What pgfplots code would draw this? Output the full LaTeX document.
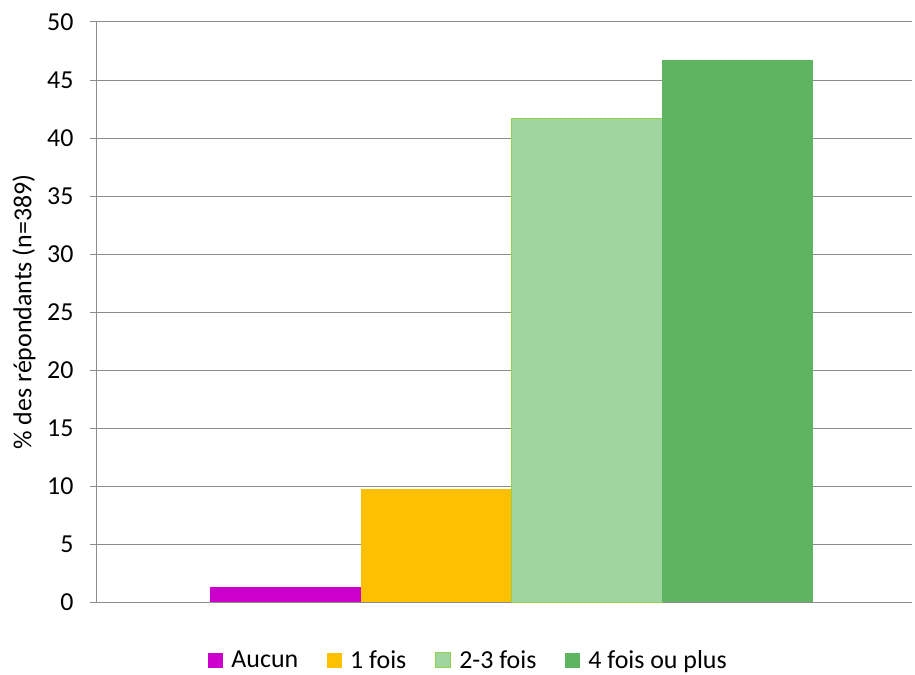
\documentclass[border=0pt]{standalone}
\usepackage{fontspec}
\setmainfont{Carlito}
\usepackage{pgfplots}
\pgfplotsset{compat=1.18}
\definecolor{cAucun}{HTML}{CC00CC}
\definecolor{cUn}{HTML}{FFC000}
\definecolor{cDeux}{HTML}{A0D59F}
\definecolor{cDeuxE}{HTML}{92D050}
\definecolor{cQuatre}{HTML}{5FB461}
\definecolor{gridc}{HTML}{8C8C8C}
\newcommand{\cf}{\fontsize{26}{31}\selectfont}
\begin{document}
\begin{tikzpicture}
\begin{axis}[
  scale only axis,
  width=815bp, height=580bp,
  xmin=97, xmax=912,
  ymin=0, ymax=50,
  ytick={0,5,...,50},
  xtick=\empty,
  axis x line*=bottom,
  axis y line*=left,
  axis line style={gridc, line width=1bp},
  ymajorgrids,
  grid style={gridc, line width=1bp},
  tick align=outside,
  major tick length=7bp,
  tick style={gridc, line width=1bp},
  /pgf/number format/assume math mode=true,
  ticklabel style={font=\cf},
  yticklabel style={xshift=-13bp},
  ylabel={\% des répondants (n=389)},
  ylabel style={font=\cf, at={(axis description cs:-0.0896,0.5)}, anchor=center},
  ybar, bar shift=0pt, bar width=151,
  legend style={at={(0.456,-0.1)}, anchor=center, draw=none, legend columns=4,
    font=\cf, /tikz/every even column/.append style={column sep=27bp},
    /tikz/every odd column/.append style={column sep=6bp}},
  legend image code/.code={\path[#1] (0bp,-7.5bp) rectangle (15bp,7.5bp);},
]
\addplot[fill=cAucun, draw=none] coordinates {(285.5,1.3)};
\addlegendentry{Aucun}
\addplot[fill=cUn, draw=none] coordinates {(436.5,9.7)};
\addlegendentry{1 fois}
\addplot[fill=cDeux, draw=cDeuxE, line width=1bp] coordinates {(587,41.7)};
\addlegendentry{2-3 fois}
\addplot[fill=cQuatre, draw=none] coordinates {(737.5,46.7)};
\addlegendentry{4 fois ou plus}
\coordinate (O) at (rel axis cs:0,0);
\end{axis}
\pgfresetboundingbox
\path[use as bounding box] (O) ++(-97bp,-73bp) rectangle ++(915bp,675bp);
\end{tikzpicture}
\end{document}
